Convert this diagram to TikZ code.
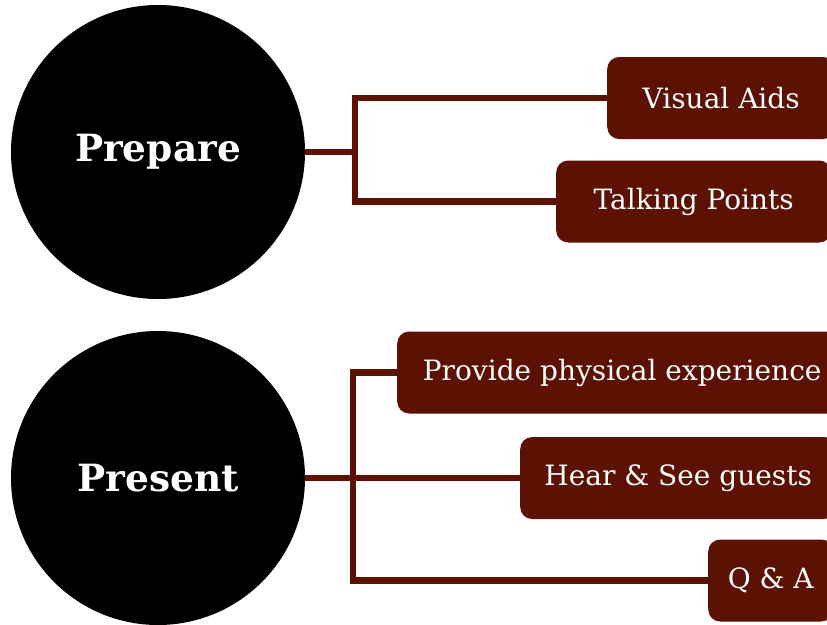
\documentclass[tikz,border=0pt]{standalone}
\usepackage{fontspec}
\setmainfont{DejaVu Serif}
\usetikzlibrary{positioning}
\definecolor{maroon}{RGB}{92, 17, 2}

\begin{document}
\begin{tikzpicture}[
        x=1pt, y=-1pt,
        hub/.style={circle, fill=black, minimum size=294pt, inner sep=0pt,
                    text=white, font=\fontsize{37.5}{42}\selectfont\bfseries},
        item/.style={rectangle, rounded corners=12pt, fill=maroon, anchor=west,
                     minimum height=82pt, inner sep=0pt, align=center,
                     text=white, font=\fontsize{28}{33}\selectfont},
        link/.style={draw=maroon, line width=6.5pt},
    ]
        \useasboundingbox (0,0) rectangle (827,624);
        \clip (0,0) rectangle (827,624);

        % 两个主题
        \node[hub] (prep) at (158,152) {Prepare};
        \node[hub] (pres) at (158,478) {Present};

        % Prepare 的分支
        \node[item, minimum width=228pt] (vis) at (607,98) {Visual Aids};
        \node[item, minimum width=275pt] (talk) at (556,201.5) {Talking Points};

        % Present 的分支
        \node[item, minimum width=450pt] (phys) at (397,372.5) {Provide physical experience};
        \node[item, minimum width=316pt] (hear) at (520,478) {Hear \& See guests};
        \node[item, minimum width=125pt] (qa) at (708,580.5) {Q \& A};

        \draw[link] (prep.east) -- ++(50,0) |- (vis.west);
        \draw[link] (prep.east) -- ++(50,0) |- (talk.west);

        \draw[link] (pres.east) -- ++(48,0) |- (phys.west);
        \draw[link] (pres.east) -- (hear.west);
        \draw[link] (pres.east) -- ++(48,0) |- (qa.west);

    \end{tikzpicture}
\end{document}
